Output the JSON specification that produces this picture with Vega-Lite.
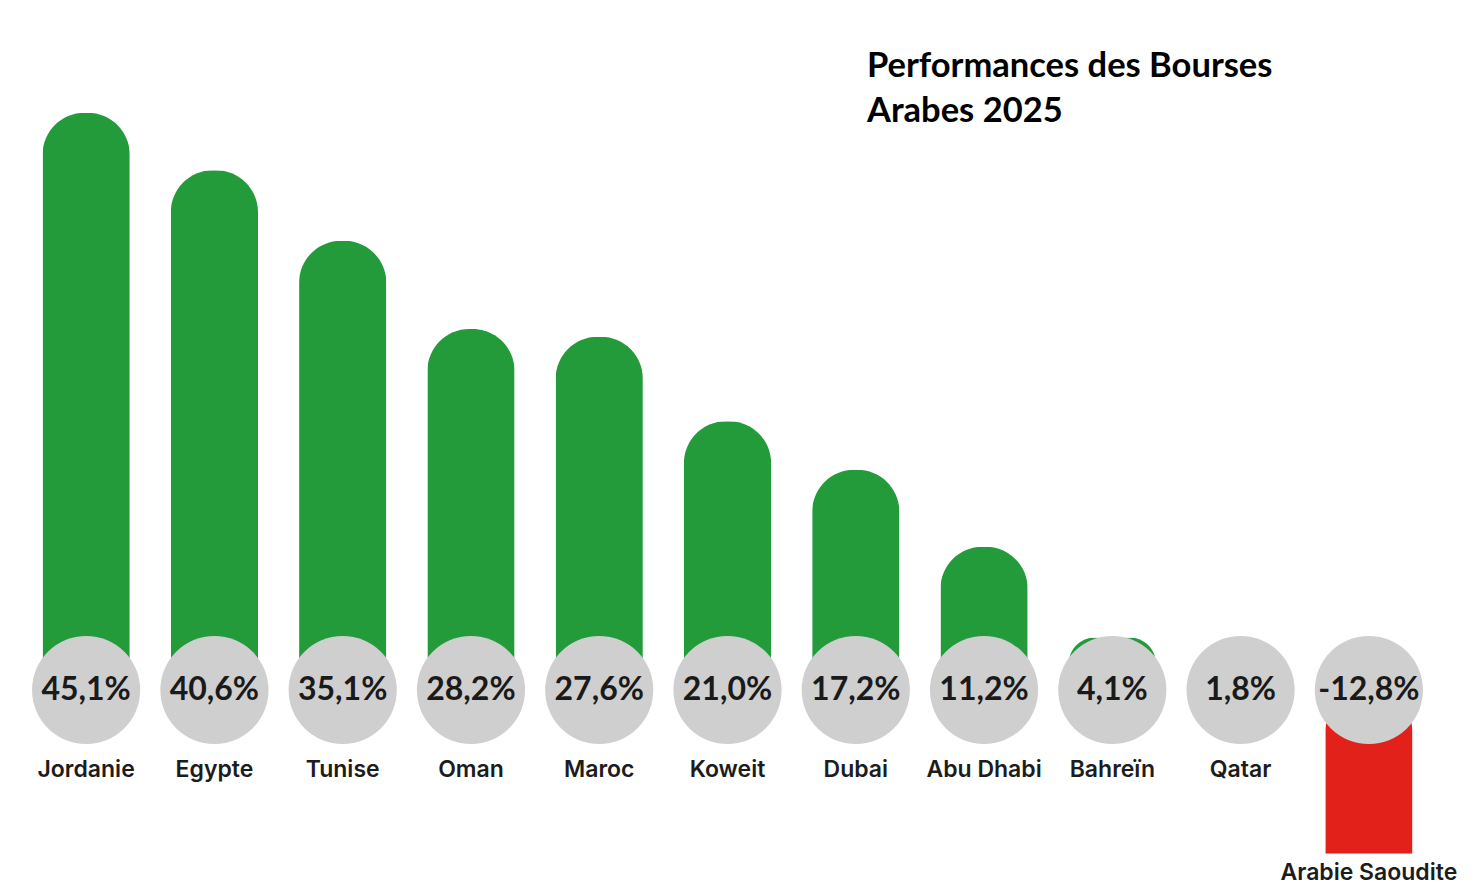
{
  "$schema": "https://vega.github.io/schema/vega-lite/v6.json",
  "width": 1481,
  "height": 886,
  "padding": 0,
  "autosize": {"type": "none"},
  "background": "#ffffff",
  "config": {
    "view": {"stroke": null},
    "locale": {"number": {"decimal": ",", "thousands": ".", "grouping": [3], "currency": ["", "%"], "minus": "-"}}
  },
  "title": {
    "text": ["Performances des Bourses", "Arabes 2025"],
    "anchor": "start",
    "frame": "group",
    "orient": "top",
    "offset": 0,
    "dx": 867,
    "dy": 156,
    "baseline": "alphabetic",
    "font": "Lato",
    "fontSize": 34.5,
    "fontWeight": "bold",
    "color": "#000000",
    "lineHeight": 45
  },
  "data": {
    "values": [
      {"pays": "Jordanie", "value": 45.1},
      {"pays": "Egypte", "value": 40.6},
      {"pays": "Tunise", "value": 35.1},
      {"pays": "Oman", "value": 28.2},
      {"pays": "Maroc", "value": 27.6},
      {"pays": "Koweit", "value": 21.0},
      {"pays": "Dubai", "value": 17.2},
      {"pays": "Abu Dhabi", "value": 11.2},
      {"pays": "Bahreïn", "value": 4.1},
      {"pays": "Qatar", "value": 1.8},
      {"pays": "Arabie Saoudite", "value": -12.8}
    ]
  },
  "encoding": {
    "x": {
      "field": "pays",
      "type": "nominal",
      "sort": null,
      "axis": null,
      "scale": {"range": [22, 1433], "paddingInner": 0.32, "paddingOuter": 0.16}
    }
  },
  "layer": [
    {
      "mark": {"type": "bar", "cornerRadiusEnd": 42},
      "encoding": {
        "y": {
          "field": "value",
          "type": "quantitative",
          "axis": null,
          "scale": {"domain": [-15.3125, 53.906], "nice": false, "zero": false}
        },
        "color": {
          "condition": {"test": "datum.value < 0", "value": "#e3211b"},
          "value": "#239b3b"
        }
      }
    },
    {
      "mark": {"type": "point", "shape": "circle", "filled": true, "opacity": 1, "size": 11700, "color": "#cfcfcf"},
      "encoding": {
        "y": {"datum": 0, "type": "quantitative"}
      }
    },
    {
      "mark": {"type": "text", "font": "Lato", "fontSize": 32, "fontWeight": "bold", "color": "#1a1a1a", "baseline": "middle", "align": "center"},
      "encoding": {
        "y": {"datum": 0, "type": "quantitative"},
        "text": {"field": "value", "type": "quantitative", "format": "$.1f"}
      }
    },
    {
      "transform": [{"filter": "datum.value >= 0"}],
      "mark": {"type": "text", "font": "Inter", "fontSize": 23, "fontWeight": 600, "color": "#1c1c1c", "baseline": "middle", "align": "center", "dy": 80},
      "encoding": {
        "y": {"datum": 0, "type": "quantitative"},
        "text": {"field": "pays", "type": "nominal"}
      }
    },
    {
      "transform": [{"filter": "datum.value < 0"}],
      "mark": {"type": "text", "font": "Inter", "fontSize": 23, "fontWeight": 600, "color": "#1c1c1c", "baseline": "middle", "align": "center", "dy": 19},
      "encoding": {
        "y": {"field": "value", "type": "quantitative"},
        "text": {"field": "pays", "type": "nominal"}
      }
    }
  ]
}
